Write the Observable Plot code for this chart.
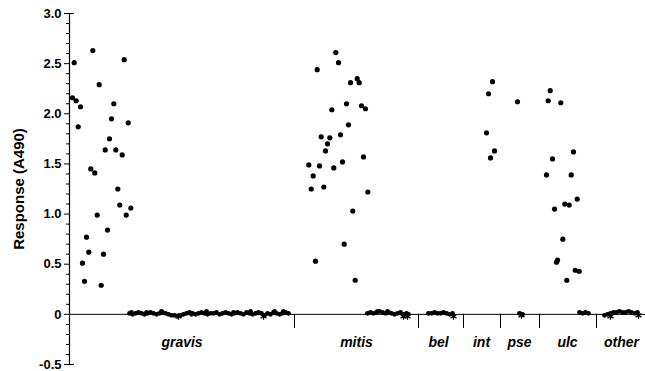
<!DOCTYPE html>
<html><head><meta charset="utf-8">
<script src="https://cdn.jsdelivr.net/npm/d3@7"></script>
<script src="https://cdn.jsdelivr.net/npm/@observablehq/plot@0.6"></script>
<style>body{margin:0;background:#fff}#chart svg{display:block}</style>
</head><body><div id="chart"></div>
<script>
// Categories along the strip (x is the sample's order position within the strip)
const categories = ["gravis", "mitis", "bel", "int", "pse", "ulc", "other"];
const categoryCenters = [112.5, 287, 369, 412, 450, 498, 552];
const categoryBounds = [225, 349, 394, 431, 470, 527];

const majorTicks = [-0.5, 0, 0.5, 1.0, 1.5, 2.0, 2.5, 3.0];
const endTicks = [-0.5, 3.0];
const minorTicks = d3.range(-5, 31).map(d => d / 10).filter(d => !majorTicks.includes(d));

// Responders: [position, A490]
const gravisHigh = [
  [4.7,2.51],[23.3,2.63],[54.7,2.54],[29.7,2.29],[3,2.16],[6.7,2.13],[11,2.07],[44.3,2.10],
  [8.7,1.87],[42,1.95],[58.7,1.91],[40,1.75],[35.7,1.64],[46.3,1.64],[52.7,1.59],[21.3,1.45],
  [25.3,1.41],[48.3,1.25],[50.3,1.09],[61.3,1.06],[27.7,0.99],[56.7,0.99],[38,0.84],[17,0.77],
  [19.3,0.62],[34,0.60],[13,0.51],[15,0.33],[31.7,0.29]
];
const mitisHigh = [
  [266.3,2.61],[269,2.51],[247.7,2.44],[281,2.31],[287.7,2.35],[289.7,2.31],[277,2.10],[262.3,2.04],
  [292,2.08],[296,2.05],[279,1.89],[271,1.79],[251.7,1.77],[260.3,1.76],[258,1.70],[256,1.63],
  [294,1.57],[273,1.52],[239.3,1.49],[250,1.48],[264.3,1.46],[243.7,1.38],[241.7,1.25],[254.3,1.27],
  [298.3,1.22],[283.3,1.03],[274.7,0.70],[246,0.53],[285.7,0.34]
];
const intHigh = [[423,2.32],[419,2.20],[417,1.81],[425,1.63],[421,1.56]];
const pseHigh = [[448,2.12]];
const ulcHigh = [
  [480.7,2.23],[478.7,2.13],[491.3,2.11],[504,1.62],[483,1.55],[477,1.39],[501.7,1.39],[507.7,1.15],
  [485,1.05],[495.3,1.10],[499.7,1.09],[493.3,0.75],[488,0.54],[487,0.52],[505.7,0.44],[509.7,0.43],[497.3,0.34]
];

// Non-responders near zero: [position, A490]
const gravisZero = [
  [60,0.01],[62,0.02],[63,0.00],[66,0.01],[69,0.02],[72,0.01],[75,0.00],[77,0.02],[78,0.01],[81,0.02],[84,0.01],[87,0.00],
  [90,0.01],[92,0.03],[93,0.02],[96,0.01],[99,0.00],[102,-0.01],[105,-0.01],[108,-0.02],[111,-0.01],[114,0.00],[117,0.01],
  [120,0.02],[122,0.00],[123,0.01],[126,0.00],[129,0.01],[132,0.02],[135,0.01],[137,0.03],[138,0.00],[141,0.01],[144,0.01],[147,0.02],
  [150,0.00],[153,0.01],[156,0.02],[159,0.01],[162,0.00],[164,0.02],[165,0.01],[168,0.02],[171,0.01],[174,0.00],[177,0.02],
  [180,0.01],[181,0.03],[183,0.00],[186,0.01],[189,0.02],[192,0.01],[195,-0.01],[198,0.01],[201,0.00],[204,0.02],[205,0.03],[207,0.01],
  [210,0.00],[213,0.01],[214,0.03],[216,0.02],[219,0.01]
];
const mitisZero = [
  [298,0.01],[301,0.02],[304,0.01],[307,0.02],[308,0.03],[310,0.03],[313,0.02],[316,0.01],[318,0.03],[319,0.02],[322,0.01],
  [325,0.00],[328,0.01],[331,0.02],[334,0.00],[337,0.01],[339,0.00]
];
const belZero = [[359,0.01],[362,0.01],[365,0.02],[368,0.01],[371,0.01],[374,0.02],[377,0.01],[380,0.00],[383,0.01]];
const pseZero = [[450,0.01],[453,0.00]];
const ulcZero = [[510,0.02],[513,0.01],[516,0.02],[519,0.01]];
const otherZero = [
  [535,-0.01],[538,0.00],[541,0.01],[544,0.02],[547,0.02],[550,0.03],[553,0.02],[556,0.02],
  [559,0.03],[562,0.02],[565,0.01],[568,0.02]
];
const starMarks = [[109,-0.02],[194,-0.02],[334,-0.02],[338,-0.02],[384,-0.02],[452,-0.01],[541,-0.02],[569,-0.01]];

const toRows = (arr, cat) => arr.map(([pos, value]) => ({cat, pos, value}));
const responders = [
  ...toRows(gravisHigh, "gravis"), ...toRows(mitisHigh, "mitis"), ...toRows(intHigh, "int"),
  ...toRows(pseHigh, "pse"), ...toRows(ulcHigh, "ulc")
];
const nearZero = [
  ...toRows(gravisZero, "gravis"), ...toRows(mitisZero, "mitis"), ...toRows(belZero, "bel"),
  ...toRows(pseZero, "pse"), ...toRows(ulcZero, "ulc"), ...toRows(otherZero, "other")
];
const stars = toRows(starMarks, "star");
const labelRows = categories.map((name, i) => ({name, pos: categoryCenters[i]}));

const font = "'Liberation Sans', Arial, sans-serif";

const chart = Plot.plot({
  width: 645,
  height: 371,
  marginLeft: 69,
  marginRight: 0,
  marginTop: 13,
  marginBottom: 7,
  style: {fontFamily: font, background: "#fff", color: "#000"},
  x: {domain: [0, 576], axis: null},
  y: {domain: [-0.5, 3.0], axis: null},
  marks: [
    Plot.ruleY([0], {stroke: "#000", strokeWidth: 1}),
    Plot.ruleX([0], {y1: -0.5, y2: 3.0, stroke: "#000", strokeWidth: 1.2}),
    Plot.ruleX(categoryBounds, {y1: 0, y2: -0.14, stroke: "#000", strokeWidth: 1}),
    Plot.axisY(minorTicks, {tickSize: 3, tickFormat: () => "", label: null, stroke: "#000"}),
    Plot.axisY(majorTicks, {
      tickSize: 5, tickPadding: 3, stroke: "#000", fill: "#000", label: null,
      tickFormat: d => d === 0 ? "0" : d.toFixed(1),
      fontSize: 13, fontWeight: "bold"
    }),
    Plot.axisY(endTicks, {tickSize: -5, tickFormat: () => "", label: null, stroke: "#000"}),
    Plot.dot(nearZero, {x: "pos", y: "value", r: 2.4, fill: "#000", stroke: "none"}),
    Plot.dot(stars, {x: "pos", y: "value", symbol: "asterisk", r: 3.2, stroke: "#000", strokeWidth: 1.3}),
    Plot.dot(responders, {x: "pos", y: "value", r: 2.6, fill: "#000", stroke: "none"}),
    Plot.text(labelRows, {
      x: "pos", y: () => -0.28, text: "name",
      fontSize: 14, fontWeight: "bold", fontStyle: "italic", fill: "#000"
    }),
    Plot.text(["Response (A490)"], {
      frameAnchor: "left", textAnchor: "middle", dx: -50, rotate: -90,
      fontSize: 15, fontWeight: "bold", fill: "#000"
    })
  ]
});
document.getElementById("chart").appendChild(chart);
</script>
</body></html>
